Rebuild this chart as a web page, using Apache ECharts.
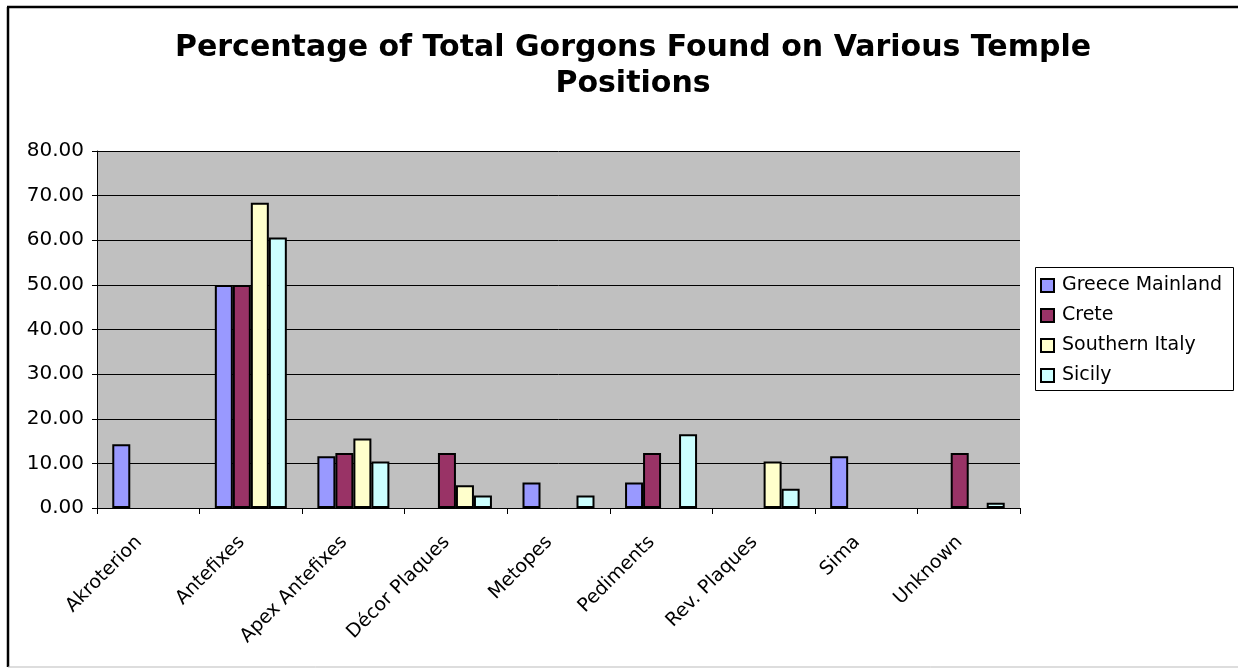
<!DOCTYPE html>
<html>
<head>
<meta charset="utf-8">
<style>
  html, body { margin: 0; padding: 0; background: #fff; }
  #chart { width: 1238px; height: 669px; }
</style>
<script src="https://cdn.jsdelivr.net/npm/echarts@6/dist/echarts.min.js"></script>
</head>
<body>
<div id="chart"></div>
<script>
// categories (temple positions)
const categories = ['Akroterion', 'Antefixes', 'Apex Antefixes', 'Décor Plaques', 'Metopes', 'Pediments', 'Rev. Plaques', 'Sima', 'Unknown'];

// percentage values per region, null = no bar
const greeceMainland = [14.3, 50.0, 11.6, null, 5.7, 5.7, null, 11.6, null];
const crete = [null, 50.0, 12.3, 12.3, null, 12.3, null, null, 12.3];
const southernItaly = [null, 68.4, 15.6, 5.1, null, null, 10.4, null, null];
const sicily = [null, 60.6, 10.4, 2.8, 2.8, 16.5, 4.3, null, 1.2];

const seriesNames = ['Greece Mainland', 'Crete', 'Southern Italy', 'Sicily'];
const seriesColors = ['#9999FF', '#993366', '#FFFFCC', '#CCFFFF'];
const seriesData = [greeceMainland, crete, southernItaly, sicily];

const chart = echarts.init(document.getElementById('chart'));

const font = 'Verdana, "DejaVu Sans", sans-serif';

chart.setOption({
  animation: false,
  textStyle: { fontFamily: font },
  title: {
    text: 'Percentage of Total Gorgons Found on Various Temple\nPositions',
    left: 628,
    textAlign: 'center',
    top: 25,
    textStyle: {
      fontFamily: font,
      fontSize: 30,
      fontWeight: 'bold',
      color: '#000',
      lineHeight: 36,
    },
  },
  legend: {
    orient: 'vertical',
    left: 1040,
    top: 276,
    itemWidth: 13,
    itemHeight: 13,
    itemGap: 11,
    padding: 0,
    textStyle: { fontSize: 19, color: '#000', padding: [0, 0, 0, 3] },
    data: seriesNames.map((n) => ({ name: n, icon: 'rect' })),
  },
  grid: {
    left: 97,
    right: 218,
    top: 151,
    bottom: 161,
    show: true,
    backgroundColor: '#C0C0C0',
    borderWidth: 0,
  },
  xAxis: {
    type: 'category',
    data: categories,
    axisLine: { lineStyle: { color: '#000', width: 1 } },
    axisTick: { show: true, length: 6, lineStyle: { color: '#000' } },
    axisLabel: {
      rotate: 45,
      fontSize: 19,
      color: '#000',
      margin: 22,
      padding: [0, 13, 0, 0],
      interval: 0,
    },
    splitLine: { show: false },
  },
  yAxis: {
    type: 'value',
    min: 0,
    max: 80,
    interval: 10,
    axisLine: { show: true, lineStyle: { color: '#000', width: 1 } },
    axisTick: { show: true, length: 5, lineStyle: { color: '#000' } },
    axisLabel: {
      fontSize: 20,
      color: '#000',
      margin: 13,
      formatter: (v) => v.toFixed(2),
    },
    splitLine: { show: true, lineStyle: { color: '#000', width: 1 } },
  },
  series: seriesNames.map((name, i) => ({
    name,
    type: 'bar',
    data: seriesData[i],
    barWidth: 18,
    barGap: '0%',
    itemStyle: {
      color: seriesColors[i],
      borderColor: '#000',
      borderWidth: 2,
    },
    emphasis: { disabled: true },
  })),
  graphic: [
    // chart frame lines
    { type: 'line', shape: { x1: 7, y1: 7, x2: 1238, y2: 7 }, style: { stroke: '#000', lineWidth: 2.5 }, silent: true },
    { type: 'line', shape: { x1: 8, y1: 7, x2: 8, y2: 667 }, style: { stroke: '#000', lineWidth: 2.5 }, silent: true },
    { type: 'line', shape: { x1: 8, y1: 667, x2: 1238, y2: 667 }, style: { stroke: '#bbb', lineWidth: 1 }, silent: true },
    // legend box
    { type: 'rect', shape: { x: 1035.5, y: 267.5, width: 198, height: 123 }, style: { fill: null, stroke: '#000', lineWidth: 1 }, silent: true, z: -1 },
  ],
});

window.addEventListener('resize', () => {
  chart.resize();
});
</script>
</body>
</html>
